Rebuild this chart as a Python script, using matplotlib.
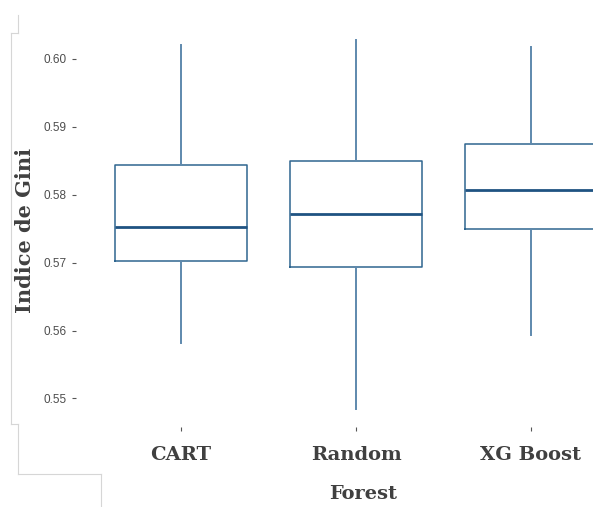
import matplotlib
matplotlib.use("Agg")
import matplotlib.pyplot as plt
from matplotlib.lines import Line2D

# Gini index distribution per model
categories = ["CART", "Random", "XG Boost"]
whisker_low = [0.5582, 0.5485, 0.5593]
q1 = [0.5703, 0.5693, 0.5749]
median = [0.5753, 0.5772, 0.5807]
q3 = [0.5844, 0.5850, 0.5875]
whisker_high = [0.6021, 0.6028, 0.6018]
y_ticks = [0.55, 0.56, 0.57, 0.58, 0.59, 0.60]

W, H = 593, 507
fig = plt.figure(figsize=(W / 100, H / 100), dpi=100)
fig.patch.set_facecolor("white")

# panel extends a little past the right edge of the figure
left, right, bottom, top = 76, 636, 427, 21.6
ax = fig.add_axes([left / W, 1 - bottom / H, (right - left) / W, (bottom - top) / H])

stats = []
for i, name in enumerate(categories):
    stats.append(dict(label=name, whislo=whisker_low[i], q1=q1[i], med=median[i],
                      q3=q3[i], whishi=whisker_high[i], fliers=[]))

positions = list(range(1, len(categories) + 1))
ax.bxp(stats, positions=positions, widths=0.75, showfliers=False, showcaps=False,
       boxprops=dict(color="#2f6690", linewidth=1.1),
       whiskerprops=dict(color="#5e89ad", linewidth=1.4),
       medianprops=dict(color="#1f5382", linewidth=2.0))

ax.set_xlim(0.4, 3.6)
ax.set_ylim(0.5458, 0.6055)
ax.set_yticks(y_ticks)
ax.set_yticklabels([f"{v:.2f}" for v in y_ticks], family="Liberation Sans",
                   fontsize=8.5, color="#4d4d4d")
ax.set_xticks(positions)
ax.set_xticklabels(categories, family="DejaVu Serif", fontweight="bold",
                   fontsize=14, color="#404040")
ax.tick_params(axis="both", length=3, width=0.8, color="#555555")
ax.tick_params(axis="x", pad=11)
ax.tick_params(axis="y", pad=4)
for s in ax.spines.values():
    s.set_visible(False)

fig.text(363 / W, 1 - 494 / H, "Forest", family="DejaVu Serif", fontweight="bold",
         fontsize=14, color="#404040", ha="center", va="center")
fig.text(25 / W, 1 - 230 / H, "Indice de Gini", family="DejaVu Serif", fontweight="bold",
         fontsize=15, color="#404040", ha="center", va="center", rotation=90)

# light gray page frame around the left margin
frame = [((18, 15), (18, 33)), ((11, 33), (18, 33)), ((11, 33), (11, 424)),
         ((11, 424), (18, 424)), ((18, 424), (18, 474)), ((18, 474), (101, 474)),
         ((101, 474), (101, 507))]
for (x0, y0), (x1, y1) in frame:
    fig.add_artist(Line2D([x0 / W, x1 / W], [1 - y0 / H, 1 - y1 / H],
                          transform=fig.transFigure, color="#d6d6d6", linewidth=0.8))

fig.savefig("out.png", dpi=100)
